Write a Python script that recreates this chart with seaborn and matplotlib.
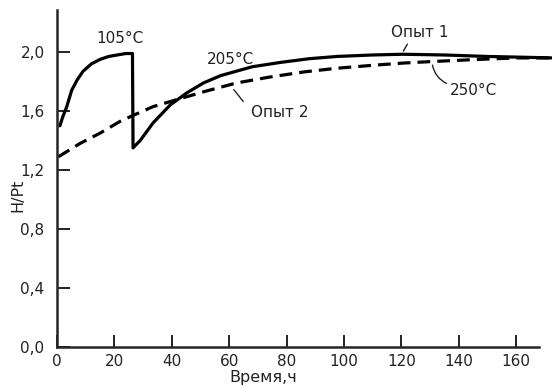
import matplotlib
matplotlib.use("Agg")
import matplotlib.pyplot as plt
import seaborn as sns
import pandas as pd

# Опыт 1 (solid): 105°C then 205°C
t1 = [1.0, 2.0, 3.4, 5.1, 7.0, 9.1, 12.0, 15.0, 18.0, 21.0, 24.0, 26.3, 26.5,
      29.0, 33.5, 39.4, 45.0, 51.0, 57.0, 68.0, 78.0, 88.0, 97.5, 110.0, 120.5,
      135.0, 150.0, 162.0, 173.0]
h1 = [1.50, 1.56, 1.63, 1.74, 1.81, 1.87, 1.92, 1.95, 1.97, 1.98, 1.99, 1.99, 1.35,
      1.40, 1.52, 1.64, 1.72, 1.79, 1.84, 1.90, 1.93, 1.955, 1.97, 1.98, 1.985,
      1.98, 1.97, 1.965, 1.96]

# Опыт 2 (dashed): 250°C
t2 = [0.5, 8.0, 15.0, 22.0, 26.5, 33.5, 40.5, 51.0, 62.5, 74.0, 86.0, 97.5,
      110.0, 120.5, 130.0, 147.0, 160.0, 173.0]
h2 = [1.29, 1.38, 1.45, 1.53, 1.57, 1.63, 1.67, 1.73, 1.79, 1.83, 1.865, 1.89,
      1.91, 1.925, 1.935, 1.95, 1.96, 1.96]

xticks = [0, 20, 40, 60, 80, 100, 120, 140, 160]
yticks = [0.0, 0.4, 0.8, 1.2, 1.6, 2.0]
ytick_labels = ["0,0", "0,4", "0,8", "1,2", "1,6", "2,0"]

sns.set_style("ticks")
plt.rcParams['font.family'] = ['DejaVu Sans']

fig = plt.figure(figsize=(5.52, 3.87), dpi=100)
ax = fig.add_axes([57/552, 1-347/387, 495/552, 337/387])

df1 = pd.DataFrame({"t": t1, "h": h1})
df2 = pd.DataFrame({"t": t2, "h": h2})
sns.lineplot(data=df1, x="t", y="h", sort=False, estimator=None, ax=ax,
             color="black", linewidth=2.3)
sns.lineplot(data=df2, x="t", y="h", sort=False, estimator=None, ax=ax,
             color="black", linewidth=2.3, linestyle=(0, (4, 2.2)))

ax.set_xlim(0, 172.5)
ax.set_ylim(0, 2.285)
ax.spines['top'].set_visible(False)
ax.spines['right'].set_visible(False)
ax.spines['left'].set_linewidth(1.8)
ax.spines['bottom'].set_linewidth(1.8)
ax.spines['bottom'].set_bounds(0, 168)
ax.set_xticks(xticks)
ax.set_xticklabels([str(v) for v in xticks])
ax.set_yticks(yticks)
ax.set_yticklabels(ytick_labels)
ax.tick_params(direction='in', length=9, width=1.4, labelsize=11, colors='#222222')
ax.tick_params(axis='y', pad=9)
ax.tick_params(axis='x', pad=5)

ax.set_xlabel("Время,ч", fontsize=11.5, color='#222222')
ax.set_ylabel("H/Pt", fontsize=11.5, color='#222222')
ax.xaxis.label.set_va('center')
ax.yaxis.label.set_va('center')
ax.xaxis.set_label_coords(0.416, -0.09)
ax.yaxis.set_label_coords(-0.079, 0.45)

fs = 11
ax.text(22, 2.095, "105°C", ha='center', va='center', fontsize=fs, color='#222222')
ax.text(60.6, 1.946, "205°C", ha='center', va='center', fontsize=fs, color='#222222')
ax.text(126.5, 2.13, "Опыт 1", ha='center', va='center', fontsize=fs, color='#222222')
ax.text(77.7, 1.59, "Опыт 2", ha='center', va='center', fontsize=fs, color='#222222')
ax.text(145, 1.74, "250°C", ha='center', va='center', fontsize=fs, color='#222222')

lk = dict(arrowstyle='-', color='#222222', lw=1.0)
ax.annotate("", xy=(120.2, 1.99), xytext=(122.6, 2.07), arrowprops=lk)
ax.annotate("", xy=(61.0, 1.76), xytext=(65.5, 1.65), arrowprops=lk)
ax.annotate("", xy=(130.7, 1.93), xytext=(136.6, 1.78),
            arrowprops=dict(arrowstyle='-', color='#222222', lw=1.0,
                            connectionstyle="arc3,rad=-0.3"))

fig.savefig("out.png", dpi=100)
